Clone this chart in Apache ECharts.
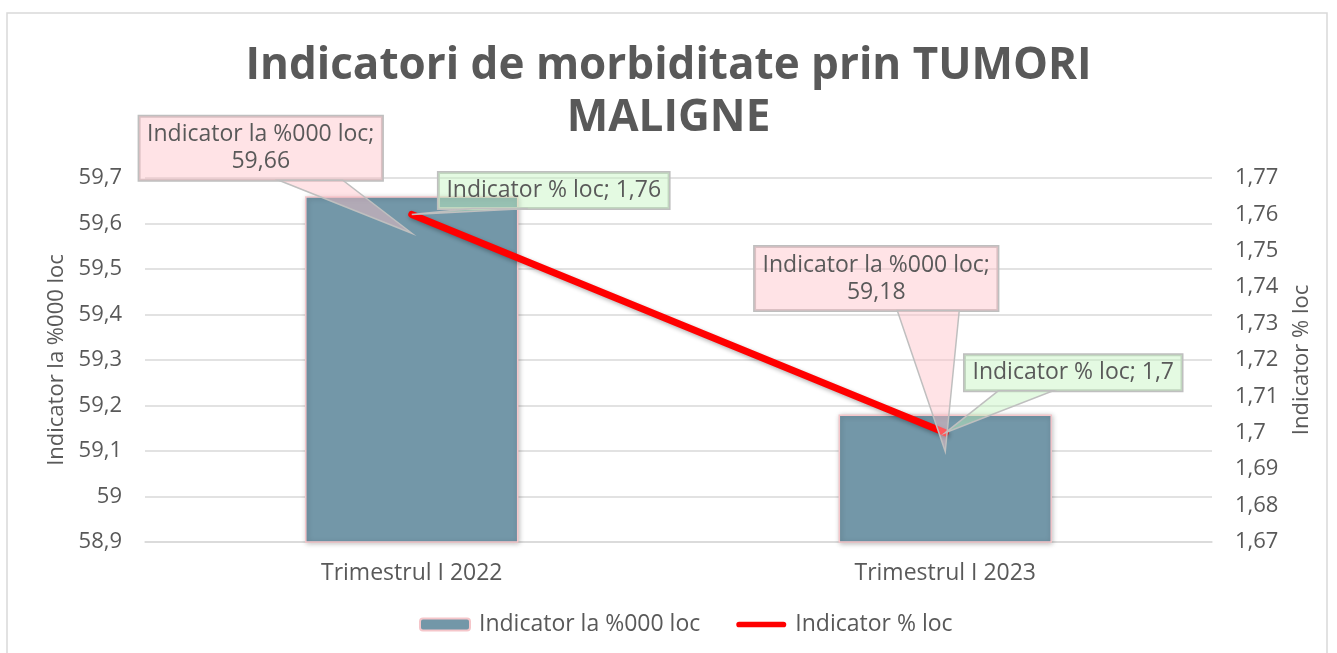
<!DOCTYPE html>
<html>
<head>
<meta charset="utf-8">
<script src="https://cdn.jsdelivr.net/npm/echarts@6/dist/echarts.min.js"></script>
<style>
  html, body { margin: 0; padding: 0; background: #fff; }
  #chart { width: 1337px; height: 653px; }
</style>
</head>
<body>
<div id="chart"></div>
<script>
var categories = ['Trimestrul I 2022', 'Trimestrul I 2023'];
var per000 = [59.66, 59.18];
var perLoc = [1.76, 1.70];
var leftMin = 58.9, leftMax = 59.7, leftStep = 0.1;
var rightMin = 1.67, rightMax = 1.77, rightStep = 0.01;

// callout placement (px, relative to the data point)
var barBox = [[-151, -48], [-69, -136]];
var barBase = [[18, 82], [21, 83]];
var barTip = 37;
var lineBox = [[142, -24], [128, -60]];
var lineBase = [[-81, -26], [-75, -20]];

var txt = '#595959';
var font = 'Open Sans';

function fmt(v) {
  return String(+(+v).toFixed(2)).replace('.', ',');
}

var myChart = echarts.init(document.getElementById('chart'));
var option = {
  backgroundColor: '#fff',
  textStyle: { fontFamily: font },
  title: {
    text: 'Indicatori de morbiditate prin TUMORI\nMALIGNE',
    left: 'center',
    top: 35,
    textStyle: { fontSize: 44, fontWeight: 'bold', color: txt, lineHeight: 52, fontFamily: font }
  },
  legend: {
    bottom: 12,
    left: 414,
    itemWidth: 50,
    itemHeight: 12,
    itemGap: 36,
    textStyle: { fontSize: 23, color: txt, fontFamily: font, padding: [0, 0, 0, 4] },
    data: [
      { name: 'Indicator la %000 loc' },
      { name: 'Indicator % loc', icon: 'path://M3,0 L57,0 A3.5,3.5 0 0 1 57,7 L3,7 A3.5,3.5 0 0 1 3,0 Z' }
    ]
  },
  grid: { left: 145, right: 125, top: 178, bottom: 111 },
  xAxis: {
    type: 'category',
    data: categories,
    axisTick: { show: false },
    axisLine: { lineStyle: { color: '#d9d9d9', width: 1.5 } },
    axisLabel: { color: txt, fontSize: 23, margin: 20, fontFamily: font }
  },
  yAxis: [
    {
      type: 'value',
      min: leftMin, max: leftMax, interval: leftStep,
      name: 'Indicator la %000 loc',
      nameLocation: 'middle',
      nameGap: 76,
      nameRotate: 90,
      nameTextStyle: { fontSize: 22, color: txt, fontFamily: font },
      axisLine: { show: false },
      axisTick: { show: false },
      axisLabel: { color: txt, fontSize: 22, margin: 23, formatter: fmt, fontFamily: font },
      splitLine: { lineStyle: { color: '#d9d9d9', width: 1.5 } }
    },
    {
      type: 'value',
      min: rightMin, max: rightMax, interval: rightStep,
      name: 'Indicator % loc',
      nameLocation: 'middle',
      nameGap: 79,
      nameRotate: 90,
      nameTextStyle: { fontSize: 22, color: txt, fontFamily: font },
      axisLine: { show: false },
      axisTick: { show: false },
      axisLabel: { color: txt, fontSize: 22, margin: 23, formatter: fmt, fontFamily: font },
      splitLine: { show: false }
    }
  ],
  series: [
    {
      name: 'Indicator la %000 loc',
      type: 'bar',
      barWidth: '40%',
      data: per000,
      itemStyle: {
        color: '#7397a8',
        borderColor: '#f5c6ca',
        borderWidth: 1.5,
        shadowBlur: 5,
        shadowColor: 'rgba(0,0,0,0.25)',
        shadowOffsetX: 1,
        shadowOffsetY: 1
      },
      label: {
        show: true,
        formatter: function(p) { return p.seriesName + ';\n' + fmt(p.value); },
        color: txt,
        fontSize: 23,
        fontFamily: font,
        lineHeight: 27,
        align: 'center',
        padding: [5, 8],
        backgroundColor: 'rgba(255,192,200,0.45)',
        borderColor: '#bfbfbf',
        borderWidth: 1.5
      },
      labelLayout: function(p) {
        var o = barBox[p.dataIndex];
        return {
          x: p.rect.x + p.rect.width / 2 + o[0],
          y: p.rect.y + o[1],
          align: 'center',
          verticalAlign: 'middle'
        };
      },
      z: 2
    },
    {
      name: 'Indicator % loc',
      type: 'line',
      yAxisIndex: 1,
      data: perLoc,
      symbol: 'circle',
      symbolSize: 2,
      itemStyle: { color: '#ff0000' },
      lineStyle: {
        color: '#ff0000',
        width: 7,
        cap: 'round',
        shadowBlur: 4,
        shadowColor: 'rgba(0,0,0,0.3)',
        shadowOffsetX: 1,
        shadowOffsetY: 2
      },
      label: {
        show: true,
        formatter: function(p) { return p.seriesName + '; ' + fmt(p.value); },
        color: txt,
        fontSize: 23,
        fontFamily: font,
        lineHeight: 26,
        padding: [5, 8],
        backgroundColor: 'rgba(195,245,190,0.45)',
        borderColor: '#bfbfbf',
        borderWidth: 1.5
      },
      labelLayout: function(p) {
        var o = lineBox[p.dataIndex];
        return {
          x: p.rect.x + p.rect.width / 2 + o[0],
          y: p.rect.y + p.rect.height / 2 + o[1],
          align: 'center',
          verticalAlign: 'middle'
        };
      },
      z: 5
    }
  ],
  graphic: [
    {
      type: 'rect', id: 'frame', z: -1, silent: true,
      shape: { x: 7, y: 13, width: 1320, height: 660 },
      style: { fill: 'none', stroke: '#d9d9d9', lineWidth: 1.5 }
    }
  ]
};
myChart.setOption(option);

// callout pointers, placed from the axes' own scales
var wedges = [];
for (var i = 0; i < categories.length; i++) {
  var b = myChart.convertToPixel({ xAxisIndex: 0, yAxisIndex: 0 }, [i, per000[i]]);
  var cx = b[0] + barBox[i][0], by = b[1] + barBox[i][1] + 32;
  wedges.push({
    type: 'polygon', z: 50, silent: true,
    shape: { points: [[cx + barBase[i][0], by], [b[0], b[1] + barTip], [cx + barBase[i][1], by]] },
    style: { fill: 'rgba(255,192,200,0.45)', stroke: '#bfbfbf', lineWidth: 1.5 }
  });
  var l = myChart.convertToPixel({ xAxisIndex: 0, yAxisIndex: 1 }, [i, perLoc[i]]);
  var lx = l[0] + lineBox[i][0], ly = l[1] + lineBox[i][1] + 18;
  wedges.push({
    type: 'polygon', z: 50, silent: true,
    shape: { points: [[lx + lineBase[i][0], ly], [l[0], l[1]], [lx + lineBase[i][1], ly]] },
    style: { fill: 'rgba(195,245,190,0.45)', stroke: '#bfbfbf', lineWidth: 1.5 }
  });
}
myChart.setOption({ graphic: wedges.concat(option.graphic) });
</script>
</body>
</html>
